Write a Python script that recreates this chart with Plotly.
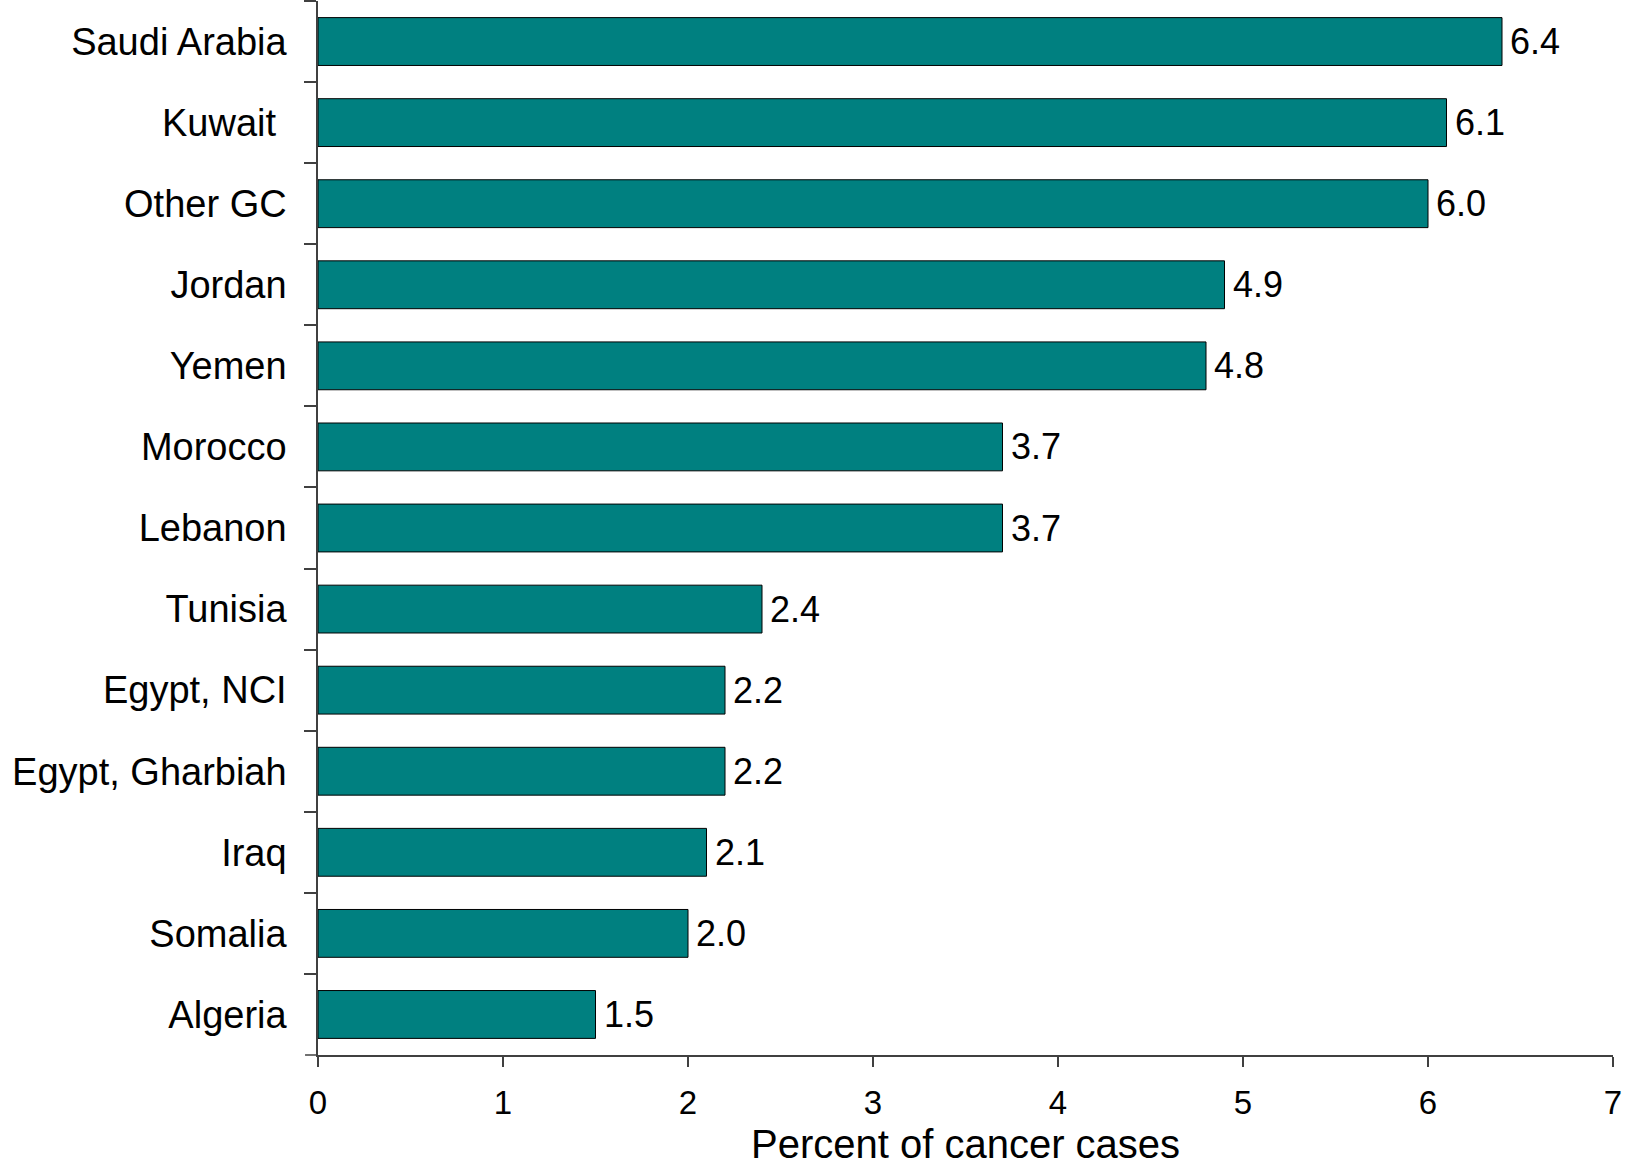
import plotly.graph_objects as go

countries = ["Saudi Arabia", "Kuwait\u00a0", "Other GC", "Jordan", "Yemen", "Morocco",
             "Lebanon", "Tunisia", "Egypt, NCI", "Egypt, Gharbiah", "Iraq", "Somalia", "Algeria"]
percent = [6.4, 6.1, 6.0, 4.9, 4.8, 3.7, 3.7, 2.4, 2.2, 2.2, 2.1, 2.0, 1.5]
x_ticks = [0, 1, 2, 3, 4, 5, 6, 7]
x_title = "Percent of cancer cases"

FONT = "Liberation Sans, Arial, sans-serif"
AXIS_COLOR = "#404040"

fig = go.Figure()
fig.add_trace(go.Bar(
    x=percent, y=countries, orientation="h",
    marker=dict(color="#008080", line=dict(color="black", width=1)),
    hoverinfo="x+y",
))

for c, v in zip(countries, percent):
    fig.add_annotation(x=v, y=c, text=f"{v:.1f}", showarrow=False,
                       xanchor="left", yanchor="middle", xshift=6,
                       font=dict(family=FONT, size=36, color="black"))

# x-axis title
fig.add_annotation(x=0.5, y=0, xref="paper", yref="paper", text=x_title, showarrow=False,
                   xanchor="center", yanchor="middle", yshift=-89,
                   font=dict(family=FONT, size=40, color="black"))

fig.add_shape(type="line", xref="paper", yref="paper", x0=-0.01, x1=0, y0=0, y1=0,
              line=dict(color=AXIS_COLOR, width=1.5))

fig.update_layout(
    width=1628, height=1168,
    margin=dict(l=318, r=15, t=1, b=113),
    plot_bgcolor="white", paper_bgcolor="white",
    bargap=0.41,
    showlegend=False,
    font=dict(family=FONT, color="black"),
)
fig.update_xaxes(
    range=[0, 7], tickvals=x_ticks, ticktext=[str(t) for t in x_ticks],
    ticks="outside", ticklen=10, tickwidth=1.5, tickcolor=AXIS_COLOR,
    showline=True, linecolor=AXIS_COLOR, linewidth=1.5,
    showgrid=False, zeroline=False, automargin=False,
    tickfont=dict(family=FONT, size=33, color="black"),
    ticklabelstandoff=8,
)
fig.update_yaxes(
    autorange="reversed", tickson="boundaries",
    ticks="outside", ticklen=12, tickwidth=1.5, tickcolor=AXIS_COLOR,
    showline=True, linecolor=AXIS_COLOR, linewidth=1.5,
    showgrid=False, zeroline=False, automargin=False,
    tickfont=dict(family=FONT, size=38, color="black"),
    ticklabelstandoff=22,
)

fig.write_html("out.html", config={"displayModeBar": False},
               post_script="document.body.style.margin='0';")
